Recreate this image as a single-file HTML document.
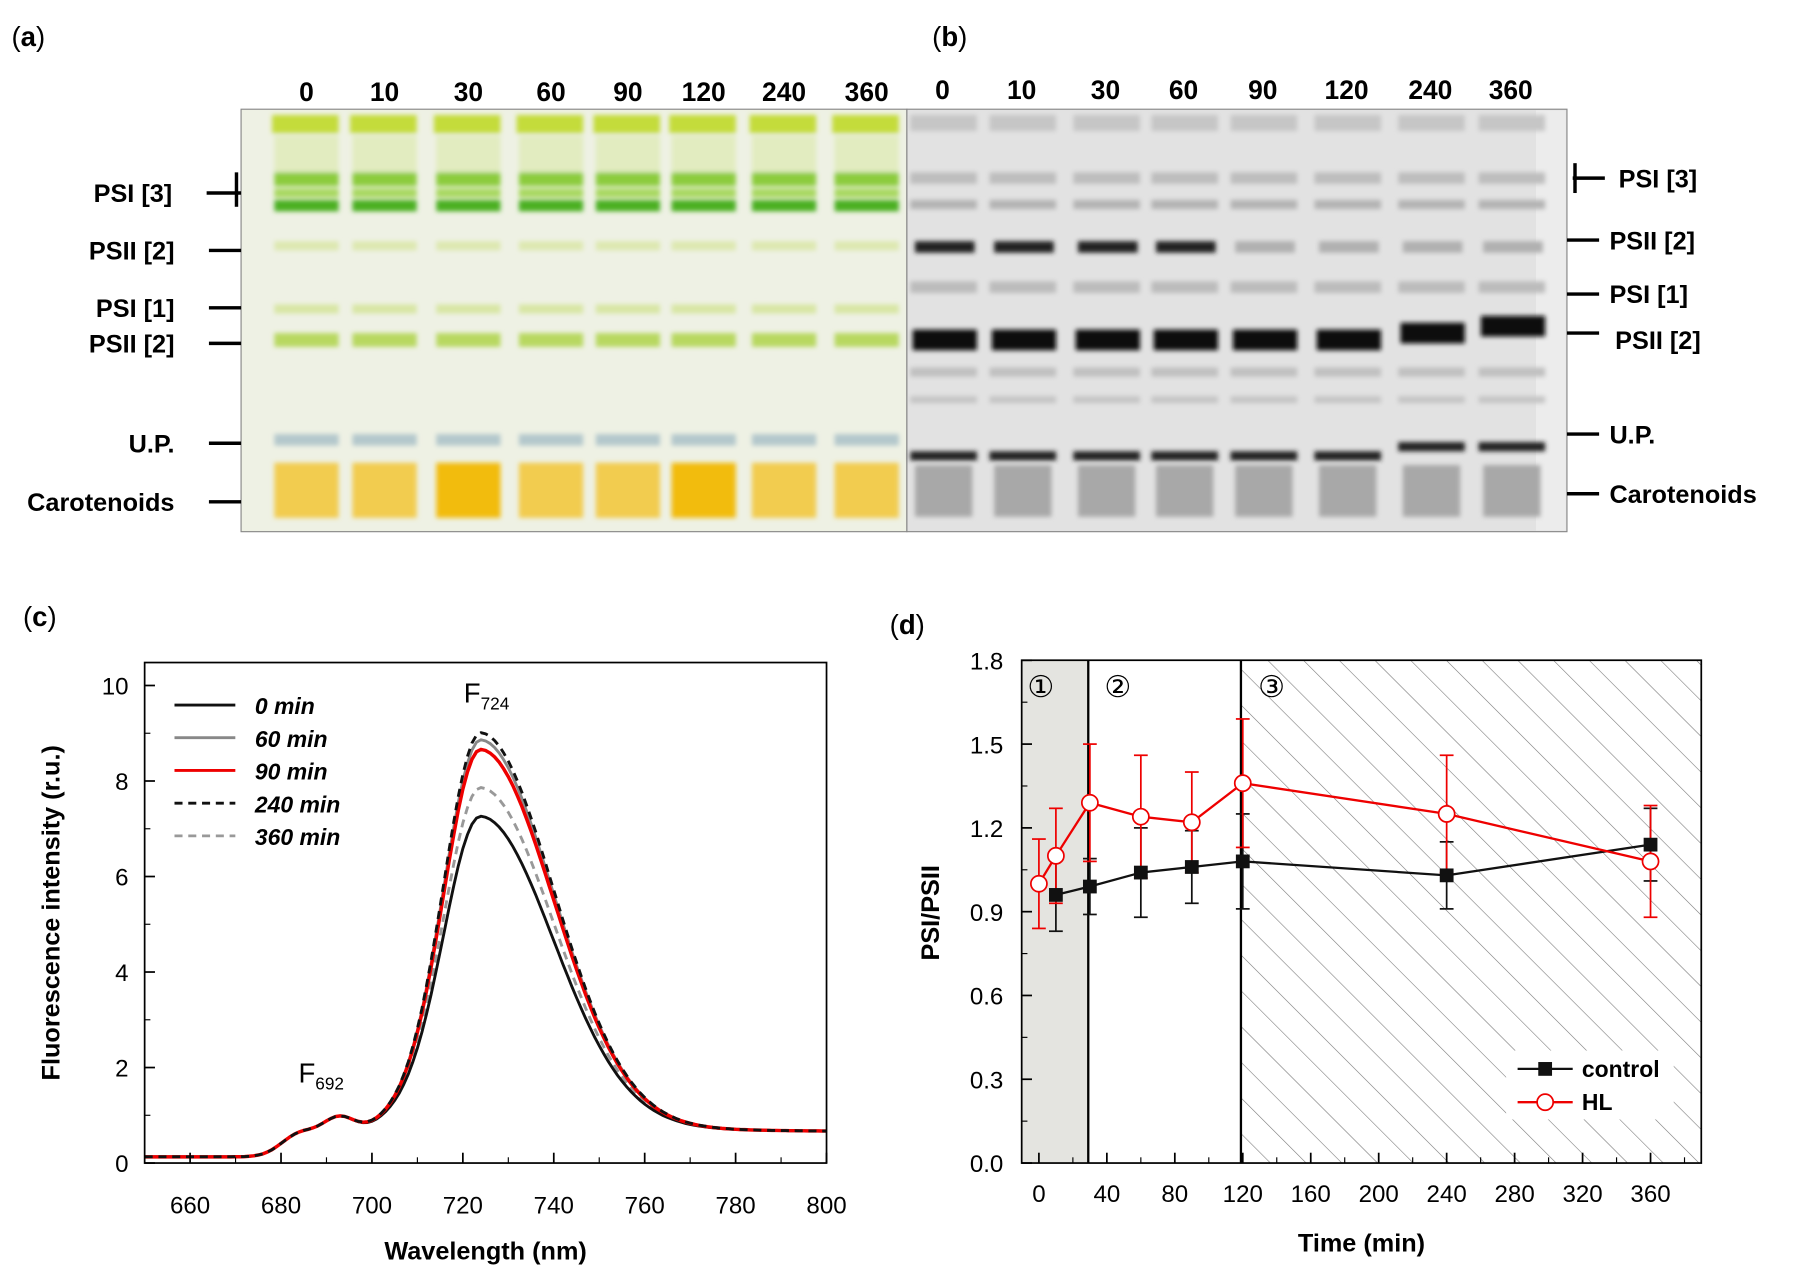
<!DOCTYPE html>
<html><head><meta charset="utf-8"><style>
html,body{margin:0;padding:0;background:#fff}
svg{display:block}
text{font-family:"Liberation Sans",Arial,sans-serif}
</style></head><body>
<svg id="s" width="1800" height="1278" viewBox="0 0 1568 1113" xmlns="http://www.w3.org/2000/svg">
<defs>
<pattern id="hatch" patternUnits="userSpaceOnUse" width="22" height="22" patternTransform="rotate(-45)">
<line x1="0" y1="0" x2="0" y2="22" stroke="#777" stroke-width="1"/>
</pattern>
<filter id="blur"><feGaussianBlur stdDeviation="2"/></filter>
</defs>
<g font-family="Liberation Serif" font-size="24">
<text x="10" y="40" font-family="Liberation Serif">(<tspan font-weight="bold">a</tspan>)</text>
<text x="812" y="40" font-family="Liberation Serif">(<tspan font-weight="bold">b</tspan>)</text>
<text x="20" y="545" font-family="Liberation Serif">(<tspan font-weight="bold">c</tspan>)</text>
<text x="775" y="552" font-family="Liberation Serif">(<tspan font-weight="bold">d</tspan>)</text>
</g>
<g id="gels"></g>
<g id="c"></g>
<g id="d"></g>
</svg>
<script>
const NS="http://www.w3.org/2000/svg";
function el(p,t,a,txt){const e=document.createElementNS(NS,t);for(const k in a)e.setAttribute(k,a[k]);if(txt!==undefined)e.textContent=txt;p.appendChild(e);return e;}
const G=document.getElementById('gels');
el(G,'rect',{x:210,y:95,width:580,height:368,fill:'#eef1e4',stroke:'#888','stroke-width':1});
const la=[242,310,383,455,522,588,658,730];
const nums=['0','10','30','60','90','120','240','360'];
const ga=el(G,'g',{filter:'url(#blur)'});
la.forEach((x,i)=>{
 el(ga,'rect',{x:x-5,y:100,width:58,height:16,fill:'#c4dc3a'});
 el(ga,'rect',{x:x-3,y:118,width:56,height:32,fill:'#e2ecc0'});
 el(ga,'rect',{x:x-3,y:150,width:56,height:12,fill:'#8ccc3c'});
 el(ga,'rect',{x:x-3,y:164,width:56,height:8,fill:'#a8d860'});
 el(ga,'rect',{x:x-3,y:174,width:56,height:10,fill:'#4cb020'});
 el(ga,'rect',{x:x-3,y:210,width:56,height:8,fill:'#dde8b0'});
 el(ga,'rect',{x:x-3,y:265,width:56,height:8,fill:'#d8e6a4'});
 el(ga,'rect',{x:x-3,y:290,width:56,height:12,fill:'#b8d860'});
 el(ga,'rect',{x:x-3,y:378,width:56,height:10,fill:'#b4c8cc'});
 el(ga,'rect',{x:x-3,y:403,width:56,height:48,fill:i==2||i==5?'#f2bc10':'#f2cc50'});
 el(G,'text',{x:x+25,y:88,'text-anchor':'middle','font-size':23,'font-weight':'bold'},nums[i]);
});
el(G,'rect',{x:790,y:95,width:575,height:368,fill:'#e2e2e2',stroke:'#888','stroke-width':1});
el(G,'rect',{x:1338,y:96,width:26,height:366,fill:'#ececec'});
const lb=[793,862,935,1003,1072,1145,1218,1288];
const gb=el(G,'g',{filter:'url(#blur)'});
lb.forEach((x,i)=>{
 el(gb,'rect',{x:x,y:100,width:58,height:14,fill:'#c6c6c6'});
 el(gb,'rect',{x:x,y:150,width:58,height:10,fill:'#bdbdbd'});
 el(gb,'rect',{x:x,y:174,width:58,height:8,fill:'#b4b4b4'});
 el(gb,'rect',{x:x+4,y:210,width:52,height:10,fill:i<4?'#222':'#b0b0b0'});
 el(gb,'rect',{x:x,y:245,width:58,height:10,fill:'#bcbcbc'});
 el(gb,'rect',{x:x+2,y:287-(i>5?(i-5)*6:0),width:56,height:18,fill:'#111'});
 el(gb,'rect',{x:x,y:320,width:58,height:8,fill:'#c0c0c0'});
 el(gb,'rect',{x:x,y:345,width:58,height:6,fill:'#c4c4c4'});
 el(gb,'rect',{x:x,y:393-(i>5?8:0),width:58,height:8,fill:'#222'});
 el(gb,'rect',{x:x+4,y:405,width:50,height:45,fill:'#a8a8a8'});
 el(G,'text',{x:x+28,y:86,'text-anchor':'middle','font-size':23,'font-weight':'bold'},nums[i]);
});
const lblA=[['PSI [3]',168,180],['PSII [2]',218,182],['PSI [1]',268,182],['PSII [2]',299,182],['U.P.',386,182],['Carotenoids',437,182]];
lblA.forEach(([t,y,x])=>{el(G,'text',{x:x-30,y:y+8,'text-anchor':'end','font-size':22,'font-weight':'bold'},t);el(G,'line',{x1:x,y1:y,x2:210,y2:y,stroke:'#000','stroke-width':3});});
el(G,'line',{x1:206,y1:150,x2:206,y2:180,stroke:'#000','stroke-width':3});
const lblB=[['PSI [3]',155,1370],['PSII [2]',209,1365],['PSI [1]',256,1365],['PSII [2]',290,1365],['U.P.',378,1365],['Carotenoids',430,1365]];
lblB.forEach(([t,y,x],i)=>{el(G,'text',{x:x+(i==0?40:i==3?42:37),y:y+8+(i==3?6:0),'font-size':22,'font-weight':'bold'},t);el(G,'line',{x1:x,y1:y,x2:x+28,y2:y,stroke:'#000','stroke-width':3});});
el(G,'line',{x1:1372,y1:142,x2:1372,y2:168,stroke:'#000','stroke-width':3});

const C=document.getElementById('c');
const cx=v=>126+(v-650)*594/150, cy=v=>1013-v*41.6;
function f(x,A){
 const sg=1/(1+Math.exp(-(x-697)/3.5));
 const tail=0.13+0.52*sg+0.3*sg*Math.exp(-Math.max(0,x-720)/30);
 const sh=0.45*Math.exp(-((x-684)**2)/(2*16))+0.75*Math.exp(-((x-693)**2)/(2*16));
 const s=x<724?8.2:16;
 return tail+sh*(1-sg*0.7)+A*Math.exp(-((x-724)**2)/(2*s*s));
}
function curve(A,col,dash,w){let d='';for(let x=650;x<=800;x+=1){d+=(x==650?'M':'L')+cx(x).toFixed(1)+','+cy(f(x,A)).toFixed(1);}el(C,'path',{d,fill:'none',stroke:col,'stroke-width':w,'stroke-dasharray':dash||'none'});}
curve(6.95,'#999','7,5',2.5);
curve(7.95,'#888','',2.5);
curve(6.35,'#111','',2.5);
curve(7.75,'#e00','',3);
curve(8.1,'#111','7,5',2.5);
el(C,'rect',{x:126,y:577,width:594,height:436,fill:'none',stroke:'#000','stroke-width':1.5});
for(let v=660;v<=800;v+=20){el(C,'line',{x1:cx(v),y1:1013,x2:cx(v),y2:1004,stroke:'#000','stroke-width':1.5});el(C,'text',{x:cx(v),y:1057,'text-anchor':'middle','font-size':21},v);}
for(let v=650;v<800;v+=10)if(v%20)el(C,'line',{x1:cx(v),y1:1013,x2:cx(v),y2:1008,stroke:'#000'});
for(let v=0;v<=10;v+=2){el(C,'line',{x1:126,y1:cy(v),x2:135,y2:cy(v),stroke:'#000','stroke-width':1.5});el(C,'text',{x:112,y:cy(v)+8,'text-anchor':'end','font-size':21},v);}
for(let v=1;v<10;v+=2)el(C,'line',{x1:126,y1:cy(v),x2:131,y2:cy(v),stroke:'#000'});
el(C,'text',{x:423,y:1097,'text-anchor':'middle','font-size':22,'font-weight':'bold'},'Wavelength (nm)');
el(C,'text',{x:52,y:795,'text-anchor':'middle','font-size':22,'font-weight':'bold',transform:'rotate(-90 52 795)'},'Fluorescence intensity (r.u.)');
const leg=[['0 min','#111',''],['60 min','#888',''],['90 min','#e00',''],['240 min','#111','7,5'],['360 min','#999','7,5']];
leg.forEach(([t,c,d],i)=>{const y=614+i*28.5;el(C,'line',{x1:152,y1:y,x2:205,y2:y,stroke:c,'stroke-width':2.5,'stroke-dasharray':d||'none'});el(C,'text',{x:222,y:y+8,'font-size':20,'font-weight':'bold','font-style':'italic'},t);});
el(C,'text',{x:404,y:612,'font-size':24},'F').appendChild(Object.assign(document.createElementNS(NS,'tspan'),{textContent:'724'})).setAttribute('font-size','15');
el(C,'text',{x:260,y:943,'font-size':24},'F').appendChild(Object.assign(document.createElementNS(NS,'tspan'),{textContent:'692'})).setAttribute('font-size','15');
document.querySelectorAll('#c tspan').forEach(t=>t.setAttribute('dy','6'));

const D=document.getElementById('d');
const dx=v=>905+v*1.48, dy=v=>1013-v*243.3;
el(D,'rect',{x:890,y:575,width:58,height:438,fill:'#e4e4e0'});
el(D,'rect',{x:1081,y:575,width:401,height:438,fill:'url(#hatch)'});
el(D,'line',{x1:948,y1:575,x2:948,y2:1013,stroke:'#000','stroke-width':2});
el(D,'line',{x1:1081,y1:575,x2:1081,y2:1013,stroke:'#000','stroke-width':2});
el(D,'rect',{x:890,y:575,width:592,height:438,fill:'none',stroke:'#000','stroke-width':1.5});
['①','②','③'].forEach((t,i)=>el(D,'text',{x:[895,962,1096][i],y:607,'font-size':26,'font-family':'DejaVu Sans'},t));
for(let v=0;v<=360;v+=40){el(D,'line',{x1:dx(v),y1:1013,x2:dx(v),y2:1004,stroke:'#000','stroke-width':1.5});el(D,'text',{x:dx(v),y:1047,'text-anchor':'middle','font-size':21},v);}
for(let v=20;v<=380;v+=40)el(D,'line',{x1:dx(v),y1:1013,x2:dx(v),y2:1008,stroke:'#000'});
for(let i=0;i<=6;i++){const v=i*0.3;el(D,'line',{x1:890,y1:dy(v),x2:899,y2:dy(v),stroke:'#000','stroke-width':1.5});el(D,'text',{x:874,y:dy(v)+8,'text-anchor':'end','font-size':21},v.toFixed(1));}
for(let i=0;i<6;i++)el(D,'line',{x1:890,y1:dy(i*0.3+0.15),x2:895,y2:dy(i*0.3+0.15),stroke:'#000'});
el(D,'text',{x:1186,y:1090,'text-anchor':'middle','font-size':22,'font-weight':'bold'},'Time (min)');
el(D,'text',{x:818,y:795,'text-anchor':'middle','font-size':22,'font-weight':'bold',transform:'rotate(-90 818 795)'},'PSI/PSII');
const ctl=[[10,0.96,0.13],[30,0.99,0.1],[60,1.04,0.16],[90,1.06,0.13],[120,1.08,0.17],[240,1.03,0.12],[360,1.14,0.13]];
const hl=[[0,1.0,0.16],[10,1.1,0.17],[30,1.29,0.21],[60,1.24,0.22],[90,1.22,0.18],[120,1.36,0.23],[240,1.25,0.21],[360,1.08,0.2]];
function series(data,col){
 data.forEach(([t,v,e])=>{const x=dx(t);el(D,'line',{x1:x,y1:dy(v-e),x2:x,y2:dy(v+e),stroke:col,'stroke-width':1.5});[v-e,v+e].forEach(w=>el(D,'line',{x1:x-6,y1:dy(w),x2:x+6,y2:dy(w),stroke:col,'stroke-width':1.5}));});
 el(D,'polyline',{points:data.map(([t,v])=>dx(t)+','+dy(v)).join(' '),fill:'none',stroke:col,'stroke-width':2});
}
series(ctl,'#111');series(hl,'#e00');
ctl.forEach(([t,v])=>el(D,'rect',{x:dx(t)-6,y:dy(v)-6,width:12,height:12,fill:'#111'}));
hl.forEach(([t,v])=>el(D,'circle',{cx:dx(t),cy:dy(v),r:7,fill:'#fff',stroke:'#e00','stroke-width':1.5}));
el(D,'rect',{x:1312,y:915,width:146,height:60,fill:'#fff'});
el(D,'line',{x1:1322,y1:931,x2:1370,y2:931,stroke:'#111','stroke-width':2});el(D,'rect',{x:1340,y:925,width:12,height:12,fill:'#111'});
el(D,'text',{x:1378,y:938,'font-size':20,'font-weight':'bold'},'control');
el(D,'line',{x1:1322,y1:960,x2:1370,y2:960,stroke:'#e00','stroke-width':2});el(D,'circle',{cx:1346,cy:960,r:7,fill:'#fff',stroke:'#e00','stroke-width':1.5});
el(D,'text',{x:1378,y:967,'font-size':20,'font-weight':'bold'},'HL');
</script>
</body></html>
